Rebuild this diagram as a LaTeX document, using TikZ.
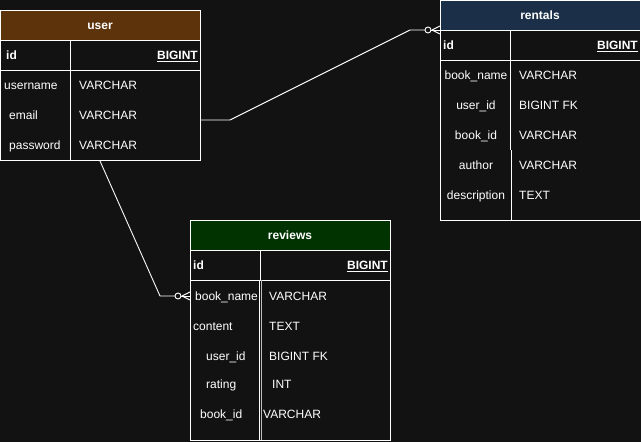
\documentclass[tikz,border=0pt]{standalone}
\usepackage{fontspec}
\setmainfont{Liberation Sans}
\definecolor{bg}{HTML}{121212}
\definecolor{hbrown}{HTML}{5C330A}
\definecolor{hnavy}{HTML}{1B3048}
\definecolor{hgreen}{HTML}{003300}
\tikzset{
  tbl/.style={draw=white, line width=1pt, fill=bg, inner sep=0pt, minimum width=200pt, anchor=north west},
  hdr/.style={draw=white, line width=1pt, inner sep=0pt, minimum width=200pt, minimum height=30pt, anchor=north west},
  fld/.style={text=white, inner sep=0pt, font=\fontsize{12}{14}\selectfont, anchor=base west},
  fldb/.style={fld, font=\fontsize{12}{14}\selectfont\bfseries},
  fldc/.style={text=white, inner sep=0pt, font=\fontsize{12}{14}\selectfont, anchor=base},
  fldr/.style={text=white, inner sep=0pt, font=\fontsize{12}{14}\selectfont\bfseries, anchor=base east},
  ttl/.style={text=white, inner sep=0pt, font=\fontsize{12}{14}\selectfont\bfseries, anchor=base},
  sep/.style={draw=white, line width=1pt},
  conn/.style={draw=white, line width=0.9pt}
}
\begin{document}
\begin{tikzpicture}[x=1pt,y=-1pt]
\fill[bg] (0,0) rectangle (641,442);
\useasboundingbox (0,0) rectangle (641,442);

% ---- user table
\node[tbl, minimum height=150pt] (user) at (0,10) {};
\node[hdr, fill=hbrown] (userh) at (0,10) {};
\node[ttl] (usert) at (100,29.3) {user};
\draw[sep] (0,70) -- (201,70);
\draw[sep] (70,40) -- (70,160);
\node[fldb] (uid) at (6,59.3) {id};
\node[fldr] (uidt) at (198,59.3) {\underline{BIGINT}};
\node[fld] (uname) at (4,89.3) {username};
\node[fld] (uemail) at (9,119.3) {email};
\node[fld] (upass) at (9,149.3) {password};
\node[fld] (unamet) at (79,89.3) {VARCHAR};
\node[fld] (uemailt) at (79,119.3) {VARCHAR};
\node[fld] (upasst) at (79,149.3) {VARCHAR};

% ---- rentals table
\node[tbl, minimum height=220pt] (rent) at (440,0) {};
\node[hdr, fill=hnavy] (renth) at (440,0) {};
\node[ttl] (rentt) at (540,19.3) {rentals};
\draw[sep] (440,60) -- (640,60);
\draw[sep] (510,30) -- (510,150);
\draw[sep] (511,150) -- (511,220);
\node[fldb] (rid) at (443,49.3) {id};
\node[fldr] (ridt) at (638,49.3) {\underline{BIGINT}};
\node[fldc] (rbn) at (476,79.3) {book\_name};
\node[fldc] (ruid) at (476,109.3) {user\_id};
\node[fldc] (rbid) at (476,139.3) {book\_id};
\node[fldc] (rau) at (476,169.3) {author};
\node[fldc] (rdesc) at (476,199.3) {description};
\node[fld] (rbnt) at (519,79.3) {VARCHAR};
\node[fld] (ruidt) at (519,109.3) {BIGINT FK};
\node[fld] (rbidt) at (519,139.3) {VARCHAR};
\node[fld] (raut) at (519,169.3) {VARCHAR};
\node[fld] (rdesct) at (519,199.3) {TEXT};

% ---- reviews table
\node[tbl, minimum height=220pt] (rev) at (190,220) {};
\node[hdr, fill=hgreen] (revh) at (190,220) {};
\node[ttl] (revt) at (290,239.3) {reviews};
\draw[sep] (190,280) -- (390,280);
\draw[sep] (260,250) -- (260,280);
\draw[draw=white, line width=0.8pt] (259,280) -- (259,440);
\draw[draw=white!75!black, line width=0.8pt] (261,280) -- (261,440);
\node[fldb] (vid) at (193,269.3) {id};
\node[fldr] (vidt) at (388,269.3) {\underline{BIGINT}};
\node[fld] (vbn) at (195,300.3) {book\_name};
\node[fld] (vcont) at (193,330.3) {content};
\node[fld] (vuid) at (206,360.3) {user\_id};
\node[fld] (vrat) at (206,388.3) {rating};
\node[fld] (vbid) at (200,418.3) {book\_id};
\node[fld] (vbnt) at (269,300.3) {VARCHAR};
\node[fld] (vcontt) at (269,330.3) {TEXT};
\node[fld] (vuidt) at (269,360.3) {BIGINT FK};
\node[fld] (vratt) at (272,388.3) {INT};
\node[fld] (vbidt) at (263,418.3) {VARCHAR};

% ---- connector user -> rentals
\coordinate (c1a) at (user.east |- 0,120);
\coordinate (c1b) at (230,120);
\coordinate (c1c) at (410,30);
\coordinate (c1d) at (425,30);
\coordinate (c1o) at (428,30);
\coordinate (c1e) at (rent.west |- 0,30);
\draw[conn] (c1a) -- (c1b) -- (c1c) -- (c1d);
\draw[conn] (c1o) circle (3);
\draw[conn] (431,30) -- (c1e);
\draw[conn] (432,30) -- (440,26);
\draw[conn] (432,30) -- (440,34);

% ---- connector user -> reviews
\coordinate (c2a) at (user.south -| 100,0);
\coordinate (c2b) at (160,296);
\coordinate (c2c) at (175,296);
\coordinate (c2o) at (178,296);
\coordinate (c2e) at (rev.west |- 0,296);
\draw[conn] (c2a) -- (c2b) -- (c2c);
\draw[conn] (c2o) circle (3);
\draw[conn] (181,296) -- (c2e);
\draw[conn] (182,296) -- (190,292);
\draw[conn] (182,296) -- (190,300);
\end{tikzpicture}
\end{document}
